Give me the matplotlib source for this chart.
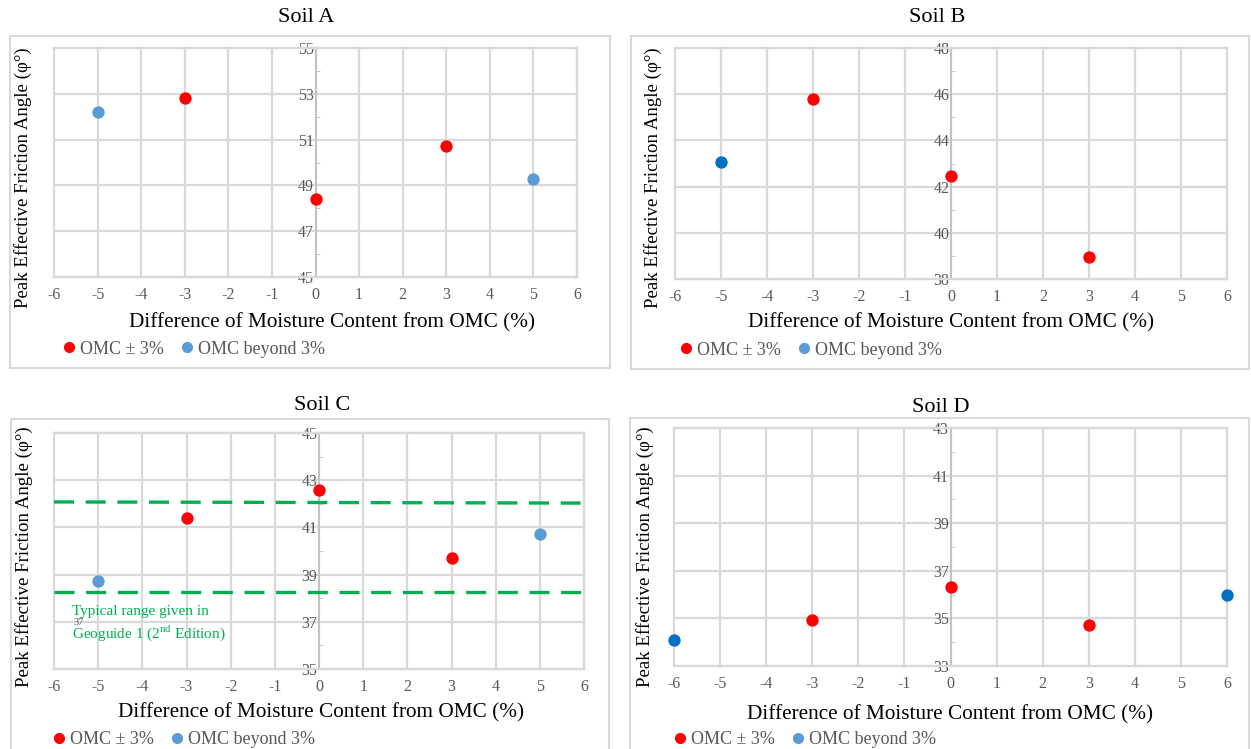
import matplotlib
matplotlib.use("Agg")
import numpy as np
import matplotlib.pyplot as plt
from matplotlib.patches import Rectangle
from matplotlib.lines import Line2D
from matplotlib.ticker import MultipleLocator, FixedLocator

plt.rcParams["font.family"] = ["Liberation Serif", "DejaVu Serif"]
plt.rcParams["mathtext.fontset"] = "custom"
plt.rcParams["mathtext.rm"] = "Liberation Serif"
plt.rcParams["axes.unicode_minus"] = False

W, H = 1251, 749

RED = "#FF0000"
BLUE_LIGHT = "#5B9BD5"
BLUE_DARK = "#0070C0"
GRID = "#D9D9D9"
TICK_TXT = "#595959"
GREEN = "#00B050"

# --- data ---
soil_a_in_x = [-3, 0, 3]
soil_a_in_y = [52.8, 48.4, 50.7]
soil_a_out_x = [-5, 5]
soil_a_out_y = [52.2, 49.3]

soil_b_in_x = [-3, 0, 3]
soil_b_in_y = [45.8, 42.45, 38.95]
soil_b_out_x = [-5]
soil_b_out_y = [43.05]

soil_c_in_x = [-3, 0, 3]
soil_c_in_y = [41.4, 42.6, 39.7]
soil_c_out_x = [-5, 5]
soil_c_out_y = [38.75, 40.7]

soil_d_in_x = [-3, 0, 3]
soil_d_in_y = [34.94, 36.3, 34.72]
soil_d_out_x = [-6, 6]
soil_d_out_y = [34.1, 35.97]

ylims = {"A": (45, 55), "B": (38, 48), "C": (35, 45), "D": (33, 43)}

typical_x = [-6, 6]
typical_upper_y = [42.08, 42.03]
typical_lower_y = [38.25, 38.25]

legend_labels = ["OMC \u00b1 3%", "OMC beyond 3%"]


def px(x, y):
    return x / W, 1 - y / H


def add_box(fig, x0, y0, x1, y1):
    fig.patches.append(Rectangle((x0 / W, 1 - y1 / H), (x1 - x0) / W, (y1 - y0) / H,
                                 transform=fig.transFigure, fill=False,
                                 edgecolor=GRID, linewidth=1.5))


def draw_panel(fig, rect, soil, xin, yin, xout, yout, out_color, title_xy, ylab_xy, xlab_xy, leg_xy):
    l, t, r, b = rect
    ax = fig.add_axes([l / W, 1 - b / H, (r - l) / W, (b - t) / H])
    lo, hi = ylims[soil]
    ax.set_xlim(-6, 6)
    ax.set_ylim(lo, hi)
    ax.xaxis.set_major_locator(MultipleLocator(1))
    ax.yaxis.set_major_locator(FixedLocator(np.arange(lo, hi + 1, 2)))
    ax.yaxis.set_minor_locator(FixedLocator(np.arange(lo + 1, hi, 2)))
    ax.set_axisbelow(True)
    ax.grid(True, which="major", color=GRID, linewidth=1.6, clip_on=False)
    for s in ["top", "right", "bottom"]:
        ax.spines[s].set_color(GRID)
        ax.spines[s].set_linewidth(1.6)
    ax.spines["left"].set_position(("data", 0))
    ax.spines["left"].set_color("#BFBFBF")
    ax.spines["left"].set_linewidth(1.2)
    ax.tick_params(axis="both", which="major", length=0, labelsize=11.5, labelcolor=TICK_TXT)
    ax.tick_params(axis="x", pad=7)
    ax.tick_params(axis="y", pad=1)
    ax.tick_params(axis="y", which="minor", direction="in", length=3, color="#BFBFBF")
    ax.scatter(xin, yin, s=62, color=RED, zorder=4, clip_on=False)
    ax.scatter(xout, yout, s=62, color=out_color, zorder=4, clip_on=False)

    fig.text(*px(*title_xy), f"Soil {soil}", ha="center", va="center", fontsize=16)
    fig.text(*px(*ylab_xy), "Peak Effective Friction Angle (\u03c6\u00b0)", rotation=90,
             ha="center", va="center", fontsize=13.6)
    fig.text(*px(*xlab_xy), "Difference of Moisture Content from OMC (%)",
             ha="center", va="center", fontsize=15.3)
    handles = [Line2D([], [], marker="o", linestyle="none", markersize=7, color=RED),
               Line2D([], [], marker="o", linestyle="none", markersize=7, color=BLUE_LIGHT)]
    fig.legend(handles, legend_labels, loc="center left", bbox_to_anchor=px(*leg_xy),
               ncol=2, frameon=False, fontsize=13, handlelength=0.8, handletextpad=0.2,
               columnspacing=0.9, borderpad=0, borderaxespad=0, labelcolor=TICK_TXT)
    return ax


fig = plt.figure(figsize=(W / 100, H / 100), dpi=100)

add_box(fig, 10, 36, 610, 368)
add_box(fig, 631, 36, 1249, 369)
add_box(fig, 11, 419, 609, 760)
add_box(fig, 630, 418, 1249, 760)

draw_panel(fig, (54, 48, 577, 277), "A", soil_a_in_x, soil_a_in_y, soil_a_out_x, soil_a_out_y,
           BLUE_LIGHT, (306, 18), (23, 178), (332, 323), (62, 349))
draw_panel(fig, (675, 48, 1227, 279), "B", soil_b_in_x, soil_b_in_y, soil_b_out_x, soil_b_out_y,
           BLUE_DARK, (937, 18), (653, 178), (951, 323), (679, 350))
ax_c = draw_panel(fig, (54, 433, 584, 669), "C", soil_c_in_x, soil_c_in_y, soil_c_out_x, soil_c_out_y,
                  BLUE_LIGHT, (322, 405), (24, 557), (321, 713), (52, 740))
draw_panel(fig, (674, 428, 1227, 666), "D", soil_d_in_x, soil_d_in_y, soil_d_out_x, soil_d_out_y,
           BLUE_DARK, (941, 407), (645, 557), (950, 715), (673, 740))

# typical range from Geoguide 1
ax_c.plot(typical_x, typical_upper_y, color=GREEN, linewidth=2.4, dashes=(6, 3.5), zorder=3)
ax_c.plot(typical_x, typical_lower_y, color=GREEN, linewidth=2.4, dashes=(6, 3.5), zorder=3)
ax_c.text(-5.6, 37.45, "Typical range given in", color=GREEN, fontsize=11, va="center")
ax_c.text(-5.6, 36.5, "Geoguide 1 (2$^{\\mathrm{nd}}$ Edition)", color=GREEN, fontsize=11, va="center")
ax_c.text(-5.55, 36.95, "37", color=TICK_TXT, fontsize=7.5, va="center")

fig.savefig("out.png", dpi=100)
